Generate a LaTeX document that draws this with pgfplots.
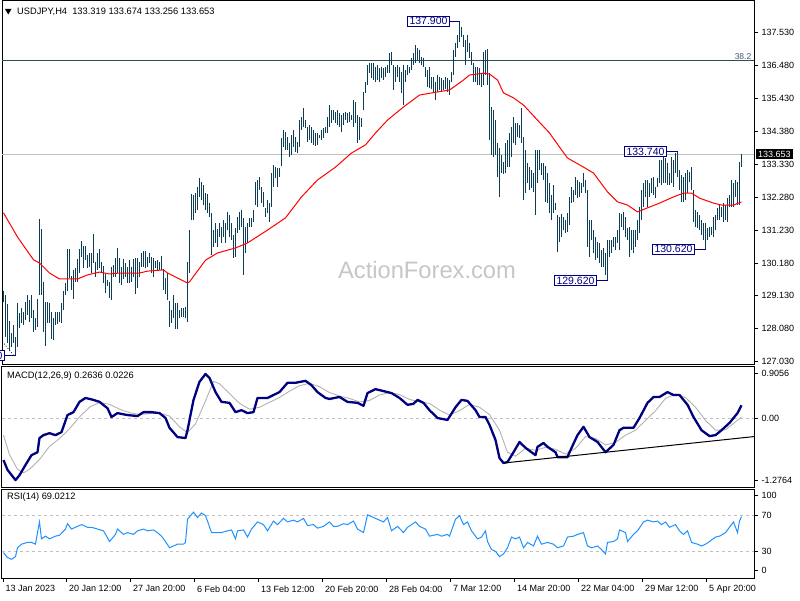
\documentclass[border=0pt]{standalone}
\usepackage{pgfplots}
\pgfplotsset{compat=1.18}
\usepackage{pgfplotstable}
\usepackage{fontspec}
\setmainfont{Liberation Sans}
\definecolor{barc}{RGB}{11,61,87}
\definecolor{navyc}{RGB}{0,0,128}
\definecolor{fibc}{RGB}{47,79,79}
\definecolor{silv}{RGB}{192,192,192}
\definecolor{rsic}{RGB}{30,144,255}
\definecolor{sigc}{RGB}{178,178,178}
\definecolor{wmk}{RGB}{198,198,198}
\definecolor{fibtxt}{RGB}{60,90,120}

\pgfplotstableread{
i h l
0 129.29 128.93
1 129.16 127.83
2 128.86 127.62
3 128.33 127.40
4 127.94 127.51
5 128.20 127.62
6 127.83 127.22
7 128.91 127.51
8 128.59 128.10
9 128.73 128.26
10 128.63 128.20
11 128.93 128.36
12 129.16 128.52
13 129.00 128.31
14 129.16 128.42
15 128.68 127.97
16 128.44 128.04
17 129.02 128.15
18 131.57 129.16
19 131.25 129.16
20 129.58 127.97
21 128.95 127.54
22 128.93 128.26
23 128.89 128.26
24 128.63 127.74
25 128.42 127.72
26 128.63 128.20
27 128.63 128.23
28 128.63 128.31
29 128.89 128.28
30 129.29 128.68
31 129.53 129.16
32 130.62 129.30
33 130.63 129.69
34 129.77 129.32
35 129.96 129.02
36 130.01 129.58
37 130.31 129.58
38 130.63 129.87
39 130.88 130.38
40 130.72 130.01
41 130.72 130.28
42 130.43 130.01
43 130.49 130.06
44 130.49 129.85
45 131.11 130.17
46 130.22 129.74
47 130.49 129.96
48 130.63 130.01
49 130.22 129.85
50 130.08 129.53
51 129.82 129.23
52 129.64 129.43
53 129.58 129.05
54 130.04 129.00
55 130.12 129.74
56 130.33 129.74
57 130.65 129.85
58 130.35 129.55
59 130.06 129.48
60 130.30 129.67
61 130.19 129.74
62 130.06 129.53
63 130.28 129.53
64 130.04 129.58
65 130.30 129.74
66 130.33 129.18
67 130.33 129.37
68 130.22 129.74
69 130.49 130.06
70 130.57 130.06
71 130.57 130.01
72 130.38 130.06
73 130.51 130.19
74 130.38 129.85
75 130.33 129.74
76 130.24 130.01
77 130.28 129.96
78 130.22 129.96
79 130.40 129.96
80 129.98 129.32
81 129.69 129.19
82 129.87 129.00
83 128.97 128.15
84 128.68 128.26
85 129.16 128.42
86 128.89 128.06
87 128.89 128.06
88 128.68 128.42
89 128.73 128.45
90 128.73 128.47
91 128.79 128.42
92 130.20 128.31
93 131.23 129.85
94 132.38 131.55
95 132.35 131.55
96 132.40 131.77
97 132.62 131.87
98 132.88 132.30
99 132.78 132.19
100 132.67 132.03
101 132.40 131.87
102 132.38 131.77
103 132.09 131.66
104 131.77 130.44
105 131.23 130.70
106 131.45 130.81
107 131.26 130.70
108 131.45 131.02
109 131.34 130.81
110 131.55 131.02
111 131.45 130.81
112 131.82 131.23
113 131.71 131.02
114 131.45 130.91
115 131.07 130.33
116 131.29 130.38
117 131.66 131.13
118 131.82 131.23
119 131.87 131.34
120 131.61 129.80
121 131.34 130.49
122 131.45 130.81
123 131.61 131.34
124 131.61 131.34
125 131.87 131.50
126 132.78 132.03
127 132.83 131.98
128 132.94 132.51
129 132.62 132.09
130 132.46 131.98
131 131.93 131.66
132 132.19 131.77
133 132.09 131.50
134 133.04 131.98
135 133.31 132.62
136 133.26 132.88
137 133.20 132.62
138 133.20 132.94
139 134.16 133.26
140 134.43 133.89
141 134.37 133.79
142 134.21 133.79
143 134.00 133.57
144 134.27 133.63
145 134.43 133.89
146 134.21 133.73
147 134.05 133.68
148 134.74 133.89
149 134.85 134.43
150 135.12 134.53
151 134.74 134.48
152 134.53 134.05
153 134.59 134.11
154 134.53 134.00
155 134.43 133.95
156 134.32 133.91
157 134.32 133.95
158 134.27 134.16
159 134.43 134.11
160 134.48 134.16
161 134.53 134.32
162 134.85 134.32
163 135.22 134.53
164 135.06 134.64
165 135.06 134.74
166 135.01 134.64
167 135.06 134.59
168 134.96 134.53
169 134.90 134.37
170 134.96 134.59
171 135.01 134.74
172 134.96 134.64
173 135.01 134.69
174 134.90 134.74
175 135.38 134.53
176 135.33 134.64
177 134.90 134.00
178 134.85 134.11
179 134.80 134.53
180 135.65 135.06
181 135.97 135.60
182 136.50 135.86
183 136.55 136.23
184 136.55 136.07
185 136.55 136.02
186 136.45 135.97
187 136.50 136.02
188 136.39 135.97
189 136.45 136.07
190 136.39 136.02
191 136.45 136.13
192 136.50 136.23
193 136.87 136.23
194 136.93 136.50
195 136.50 135.70
196 136.45 135.97
197 136.50 136.13
198 136.45 135.97
199 136.29 135.60
200 136.50 135.22
201 136.34 135.97
202 136.50 136.18
203 136.45 136.23
204 136.71 136.34
205 136.87 136.50
206 137.14 136.55
207 137.03 136.66
208 136.98 136.55
209 136.77 136.50
210 136.71 136.45
211 136.45 136.13
212 136.34 135.81
213 136.45 135.75
214 136.13 135.75
215 136.13 135.60
216 135.97 135.38
217 136.18 135.65
218 136.13 135.70
219 136.07 135.65
220 136.02 135.70
221 136.13 135.75
222 136.07 135.65
223 136.02 135.54
224 136.29 135.97
225 136.98 136.18
226 137.19 136.77
227 137.46 137.03
228 137.90 137.24
229 137.72 137.40
230 137.46 137.09
231 137.30 136.50
232 137.46 136.93
233 137.19 136.71
234 136.93 136.50
235 136.55 135.97
236 136.45 135.97
237 136.45 135.86
238 136.39 135.86
239 136.23 135.81
240 136.93 135.86
241 136.98 136.18
242 137.00 135.86
243 136.23 134.11
244 135.17 133.63
245 135.06 133.57
246 134.74 133.63
247 134.00 132.94
248 133.84 132.30
249 133.63 133.04
250 133.41 133.02
251 134.00 133.04
252 134.11 133.26
253 134.32 133.26
254 134.53 133.57
255 134.85 134.00
256 134.64 133.95
257 134.64 134.21
258 134.58 134.16
259 135.12 134.00
260 134.21 132.19
261 133.79 132.40
262 133.36 132.72
263 133.26 132.51
264 133.15 132.56
265 133.04 132.46
266 133.79 131.71
267 133.79 132.72
268 133.79 133.15
269 133.36 132.99
270 133.36 132.83
271 133.26 132.14
272 133.04 132.08
273 132.72 131.77
274 132.35 131.55
275 132.67 131.77
276 132.08 131.87
277 131.71 130.54
278 131.66 130.86
279 131.76 131.02
280 131.66 131.23
281 131.55 131.13
282 131.76 131.18
283 132.30 131.39
284 132.62 132.09
285 132.51 132.14
286 132.94 132.35
287 132.83 132.24
288 132.78 132.30
289 132.72 132.40
290 133.04 132.62
291 132.83 132.40
292 132.51 130.70
293 131.55 130.38
294 131.55 130.91
295 131.23 130.49
296 131.02 130.27
297 130.86 130.33
298 130.81 130.17
299 130.60 130.06
300 130.65 130.06
301 130.49 129.80
302 130.91 129.62
303 130.91 130.38
304 130.91 130.49
305 131.02 130.70
306 131.02 130.60
307 131.23 130.81
308 131.76 130.60
309 131.76 131.34
310 131.82 131.23
311 131.66 131.02
312 131.29 130.91
313 131.34 130.38
314 131.23 130.60
315 131.23 130.49
316 131.23 130.70
317 131.55 130.91
318 131.98 131.13
319 132.51 131.55
320 132.72 131.98
321 132.83 132.30
322 132.83 131.98
323 132.72 132.30
324 132.88 132.40
325 132.94 132.35
326 132.62 132.24
327 132.88 132.62
328 133.47 132.72
329 133.47 132.67
330 133.57 132.72
331 133.52 132.72
332 133.36 132.67
333 133.04 132.67
334 133.57 132.72
335 133.47 132.62
336 133.68 133.04
337 133.74 132.94
338 133.15 132.51
339 132.99 132.14
340 132.94 132.14
341 133.04 132.19
342 133.15 132.40
343 133.09 132.78
344 133.25 132.51
345 132.51 131.50
346 131.87 131.34
347 131.82 131.29
348 131.71 131.23
349 131.55 131.07
350 131.45 130.91
351 131.45 130.62
352 131.29 130.91
353 131.34 131.02
354 131.34 131.07
355 131.66 131.02
356 131.71 131.23
357 131.93 131.55
358 132.03 131.55
359 131.98 131.66
360 132.09 131.50
361 132.03 131.55
362 132.24 131.50
363 132.35 131.98
364 132.83 131.98
365 132.72 131.98
366 132.83 132.30
367 132.78 132.03
368 133.41 132.03
369 133.674 133.256
}\bars

\tikzset{lbl/.style={draw=navyc, fill=white, text=navyc, line width=1pt,
  font=\fontsize{10.5}{11}\selectfont, inner xsep=2pt, inner ysep=1.2pt,
  text height=7.5pt, text depth=0pt}}

\pgfplotsset{
 mtpanel/.style={
  scale only axis, width=752pt, anchor=south west,
  xmin=-0.75, xmax=375.25,
  axis line style={black, line width=1pt},
  tick style={black, line width=0.8pt},
  major tick length=4pt, tick align=outside,
  ytick pos=right, yticklabel pos=right,
  xtick=\empty,
  tick label style={font=\fontsize{9}{10}\selectfont, black},
  yticklabel style={anchor=west},
  clip=false,
  /pgf/number format/assume math mode=true,
 }
}

\begin{document}
\begin{tikzpicture}[x=1pt,y=1pt]
\useasboundingbox (0,0) rectangle (800,600);

% ---------------- price panel ----------------
\begin{axis}[mtpanel, at={(2pt,236pt)}, height=363pt,
  ymin=126.956, ymax=138.542,
  ytick={127.03,128.08,129.13,130.18,131.23,132.28,133.33,134.38,135.43,136.48,137.53},
  yticklabels={127.030,128.080,129.130,130.180,131.230,132.280,133.330,134.380,135.430,136.480,137.530}]
\addplot[fibc, line width=1pt] coordinates {(-0.75,136.627) (375.25,136.627)};
\addplot[silv, line width=1pt] coordinates {(-0.75,133.653) (375.25,133.653)};
\addplot[draw=none, mark=none,
  error bars/.cd, y dir=both, y explicit, error mark=none,
  error bar style={draw=barc, line width=1pt, solid}]
  table[x=i, y expr={(\thisrow{h}+\thisrow{l})/2}, y error expr={(\thisrow{h}-\thisrow{l})/2}] {\bars};
\addplot[red, line width=1pt] coordinates {
(0,131.78) (7,131.01) (15,130.28) (18,130.18) (23,129.86) (28,129.67) (37,129.67) (42,129.80)
(48,129.89) (53,129.83) (58,129.86) (68,129.86) (72,129.92) (80,129.96) (82,129.86) (87,129.70)
(92,129.54) (93,129.58) (101,130.27) (107,130.50) (116,130.66) (122,130.82) (132,131.23) (141,131.62)
(149,132.29) (157,132.83) (166,133.24) (174,133.69) (181,133.95) (186,134.33) (192,134.74) (200,135.16)
(208,135.54) (217,135.64) (223,135.70) (230,136.02) (233,136.18) (240,136.24) (243,136.21) (247,136.02)
(250,135.61) (255,135.45) (260,135.22) (267,134.74) (273,134.33) (278,133.88) (282,133.53) (290,133.24)
(295,133.05) (302,132.45) (307,132.13) (312,132.03) (317,131.81) (322,131.94) (328,132.09) (335,132.29)
(340,132.41) (344,132.41) (348,132.25) (355,132.09) (359,132.03) (365,132.03) (369,132.13)};
\addplot[black, dotted, line width=0.8pt] coordinates {(-0.6,127.67) (4.9,127.25)};
% annotations
\draw[navyc, line width=1pt] (axis cs:223.25,137.9) -- (axis cs:228,137.9);
\node[lbl, anchor=east] at (axis cs:223.25,137.9) {137.900};
\draw[navyc, line width=1pt] (axis cs:331.75,133.74) -- (axis cs:337,133.74);
\node[lbl, anchor=east] at (axis cs:331.75,133.74) {133.740};
\draw[navyc, line width=1pt] (axis cs:296.75,129.62) -- (axis cs:302,129.62);
\node[lbl, anchor=east] at (axis cs:296.75,129.62) {129.620};
\draw[navyc, line width=1pt] (axis cs:345.75,130.62) -- (axis cs:351,130.62);
\node[lbl, anchor=east] at (axis cs:345.75,130.62) {130.620};
\draw[navyc, line width=1pt] (axis cs:0.75,127.22) -- (axis cs:6,127.22);
\node[lbl, anchor=east] at (axis cs:0.75,127.22) {127.220};
\node[anchor=south east, text=fibtxt, font=\fontsize{8.5}{9}\selectfont, inner sep=1pt] at (axis cs:374.5,136.627) {38.2};
\node[fill=black, text=white, anchor=west, font=\fontsize{9}{10}\selectfont, inner xsep=2pt, inner ysep=1.5pt, xshift=2pt] at (axis cs:375.25,133.653) {133.653};
\end{axis}

% ---------------- MACD panel ----------------
\begin{axis}[mtpanel, at={(2pt,113pt)}, height=120pt,
  ymin=-1.411, ymax=1.043,
  ytick={-1.2764,0,0.9056}, yticklabels={-1.2764,0.00,0.9056}]
\addplot[silv, line width=1pt, dash pattern=on 3pt off 3pt] coordinates {(-0.75,0) (375.25,0)};
\addplot[sigc, line width=0.9pt] coordinates {
(0,-0.35) (3,-0.75) (7,-1.05) (10,-1.12) (13,-1.05) (18,-0.85) (23,-0.58) (28,-0.42) (33,-0.22)
(38,0.02) (43,0.22) (48,0.32) (53,0.28) (58,0.18) (63,0.11) (68,0.07) (73,0.09) (78,0.10) (83,0.04)
(88,-0.18) (92,-0.30) (96,-0.12) (101,0.35) (105,0.75) (108,0.70) (113,0.50) (118,0.30) (123,0.18)
(128,0.22) (133,0.32) (138,0.42) (143,0.55) (148,0.66) (153,0.71) (158,0.64) (163,0.52) (168,0.45)
(173,0.40) (178,0.33) (183,0.36) (188,0.47) (193,0.52) (198,0.48) (203,0.38) (208,0.33) (213,0.30)
(218,0.16) (223,0.06) (228,0.15) (233,0.28) (238,0.22) (243,0.07) (248,-0.25) (252,-0.70) (256,-0.78)
(261,-0.62) (266,-0.66) (271,-0.60) (276,-0.64) (281,-0.74) (286,-0.62) (291,-0.38) (296,-0.42)
(301,-0.55) (306,-0.50) (311,-0.35) (316,-0.25) (321,-0.05) (326,0.15) (331,0.40) (336,0.49)
(341,0.42) (346,0.22) (351,-0.05) (356,-0.25) (361,-0.24) (366,-0.08) (369,0.02)};
\addplot[navyc, line width=2.3pt, line join=round] coordinates {
(0,-0.86) (2,-1.06) (6,-1.27) (8,-1.17) (11,-0.96) (14,-0.76) (17,-0.70) (18,-0.41) (20,-0.35)
(23,-0.31) (26,-0.35) (29,-0.29) (32,0.06) (35,0.12) (38,0.33) (41,0.41) (45,0.37) (48,0.33)
(52,0.20) (54,0.02) (57,0.10) (62,0.06) (67,0.04) (70,0.12) (74,0.12) (78,0.10) (81,0.00)
(83,-0.20) (87,-0.39) (91,-0.41) (92,-0.25) (95,0.37) (98,0.74) (101,0.90) (103,0.82) (106,0.53)
(109,0.33) (113,0.31) (116,0.12) (119,0.16) (122,0.10) (125,0.12) (127,0.41) (132,0.41) (135,0.47)
(138,0.53) (142,0.72) (146,0.72) (151,0.76) (154,0.67) (157,0.53) (161,0.41) (163,0.39) (168,0.43)
(172,0.33) (177,0.31) (180,0.25) (182,0.51) (186,0.59) (192,0.53) (194,0.51) (198,0.41) (202,0.27)
(205,0.29) (207,0.37) (210,0.31) (213,0.16) (217,0.00) (222,-0.04) (226,0.22) (229,0.37) (232,0.35)
(236,0.16) (238,0.02) (241,0.02) (243,-0.14) (246,-0.45) (248,-0.82) (250,-0.92) (252,-0.90)
(255,-0.70) (258,-0.49) (261,-0.61) (264,-0.70) (266,-0.76) (267,-0.59) (270,-0.51) (272,-0.59)
(276,-0.70) (277,-0.80) (282,-0.80) (283,-0.70) (287,-0.35) (290,-0.18) (293,-0.39) (297,-0.49)
(301,-0.70) (305,-0.55) (308,-0.25) (310,-0.20) (315,-0.20) (318,0.00) (322,0.31) (325,0.43)
(328,0.43) (332,0.53) (335,0.47) (338,0.47) (342,0.27) (345,0.02) (349,-0.25) (353,-0.37)
(356,-0.35) (359,-0.25) (363,-0.10) (367,0.10) (369,0.26)};
\addplot[black, line width=1pt] coordinates {(250.25,-0.92) (375.25,-0.38)};
\end{axis}

% ---------------- RSI panel ----------------
\begin{axis}[mtpanel, at={(2pt,22pt)}, height=89pt,
  ymin=0, ymax=100,
  ytick={8,30,70,93}, yticklabels={0,30,70,100},
  xtick={-0.25,31.6,63.6,95.6,127.6,159.6,191.6,223.6,255.6,287.6,319.6,351.6},
  xticklabels={13 Jan 2023,20 Jan 12:00,27 Jan 20:00,6 Feb 04:00,13 Feb 12:00,20 Feb 20:00,28 Feb 04:00,7 Mar 12:00,14 Mar 20:00,22 Mar 04:00,29 Mar 12:00,5 Apr 20:00},
  xtick pos=left,
  xticklabel style={anchor=north west, xshift=-1pt}]
\addplot[silv, line width=1pt, dash pattern=on 3pt off 3pt] coordinates {(-0.75,70) (375.25,70)};
\addplot[silv, line width=1pt, dash pattern=on 3pt off 3pt] coordinates {(-0.75,30) (375.25,30)};
\addplot[rsic, line width=1pt] coordinates {
(0,28.6) (2,23) (4,21) (6,24) (7,34) (9,38) (12,40) (14,40) (16,38) (17,51) (18,63) (19,44) (21,47)
(23,44) (26,47) (28,48) (31,55) (32,61) (34,55) (37,58) (39,60) (42,57) (44,57) (47,55) (50,53)
(53,41) (56,49) (57,55) (60,49) (62,51) (65,49) (67,53) (70,55) (72,53) (75,54) (77,51) (79,47)
(81,41) (83,34) (85,36) (87,38) (90,38) (91,40) (92,66) (95,74) (97,68) (99,73) (101,70) (102,64)
(104,51) (107,51) (109,51) (112,53) (114,54) (116,44) (117,53) (120,54) (122,46) (124,55) (127,63)
(130,60) (132,53) (135,64) (137,60) (140,67) (142,63) (145,65) (147,63) (150,67) (152,59) (155,60)
(157,56) (160,58) (163,63) (165,58) (167,58) (170,61) (172,60) (175,64) (177,55) (180,51) (182,71)
(185,68) (187,66) (190,63) (192,68) (194,53) (197,58) (200,51) (202,57) (206,63) (208,58) (211,55)
(213,47) (217,49) (219,47) (222,49) (223,47) (226,66) (228,70) (230,60) (232,63) (234,53) (237,44)
(239,46) (241,53) (242,41) (244,32) (246,30) (248,24) (250,27) (252,34) (254,46) (256,44) (258,46)
(260,34) (262,40) (265,36) (267,47) (269,38) (272,40) (275,38) (277,34) (280,36) (282,46) (285,47)
(287,49) (290,51) (292,36) (294,34) (297,36) (299,32) (301,27) (302,40) (305,41) (307,44) (308,54)
(311,51) (312,41) (315,49) (317,53) (320,63) (322,65) (325,63) (327,64) (329,60) (331,63) (333,57)
(336,60) (338,53) (340,49) (342,53) (344,40) (347,38) (349,36) (351,38) (353,41) (356,46) (358,47)
(361,51) (363,57) (365,63) (367,51) (368,64) (369,69)};
\end{axis}

% ---------------- texts ----------------
\fill[black] (5,591) -- (11.5,591) -- (8.25,585.5) -- cycle;
\node[anchor=west, inner sep=0pt, font=\fontsize{9.3}{10}\selectfont] at (17,588) {USDJPY,H4\ \ 133.319 133.674 133.256 133.653};
\node[anchor=west, inner sep=0pt, font=\fontsize{9.3}{10}\selectfont] at (7,224) {MACD(12,26,9) 0.2636 0.0226};
\node[anchor=west, inner sep=0pt, font=\fontsize{9.3}{10}\selectfont] at (7,103) {RSI(14) 69.0212};
\node[text=wmk, font=\fontsize{23.7}{26}\selectfont, inner sep=0pt] at (427,330) {ActionForex.com};
\end{tikzpicture}
\end{document}
